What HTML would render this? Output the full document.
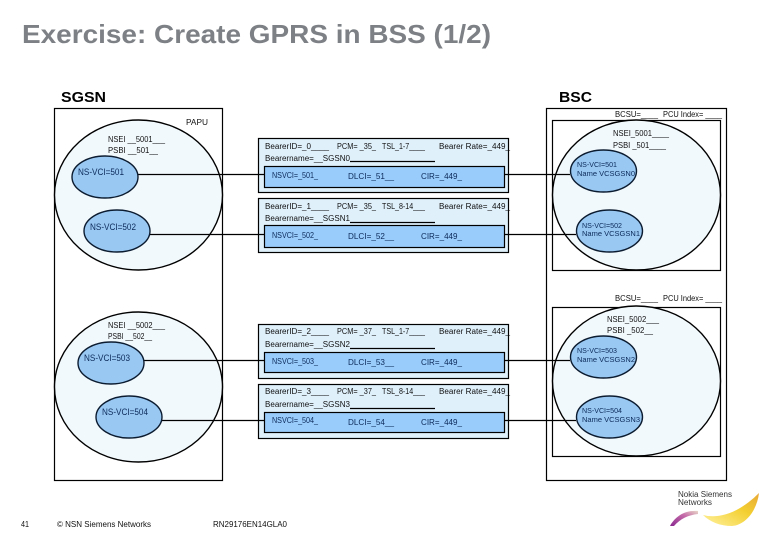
<!DOCTYPE html>
<html><head><meta charset="utf-8"><style>
html,body{margin:0;padding:0;background:#fff;width:780px;height:540px;overflow:hidden}
svg{display:block}
text{font-family:"Liberation Sans",sans-serif;fill:#111;font-size:8px}
.t{fill:#0c2a5a}
.b{fill:none;stroke:#000;stroke-width:1.2}
.c{fill:#f2f9fd;stroke:#000;stroke-width:1.4}
.e{fill:#99c8f3;stroke:#0c1c30;stroke-width:1.4}
.br{fill:#dff0fb;stroke:#000;stroke-width:1.2}
.in{fill:#99ccfb;stroke:#000;stroke-width:1.2}
.l{stroke:#000;stroke-width:1.2;fill:none}
</style></head><body>
<svg width="780" height="540" viewBox="0 0 780 540" xmlns="http://www.w3.org/2000/svg">
<defs>
<linearGradient id="g1" x1="0" y1="1" x2="1" y2="0"><stop offset="0" stop-color="#8a2a90"/><stop offset=".6" stop-color="#c56aa8"/><stop offset="1" stop-color="#e8d8c8"/></linearGradient>
<linearGradient id="g2" x1="0" y1="1" x2="1" y2="0"><stop offset="0" stop-color="#fff2a0"/><stop offset=".6" stop-color="#f3cf30"/><stop offset="1" stop-color="#e8a838"/></linearGradient>
</defs>

<text x="22" y="43" textLength="469" lengthAdjust="spacingAndGlyphs" style="font-size:26px;font-weight:bold;fill:#7d8186">Exercise: Create GPRS in BSS (1/2)</text>
<text x="61" y="102" textLength="45" lengthAdjust="spacingAndGlyphs" style="font-size:14.5px;font-weight:bold;fill:#000">SGSN</text>
<text x="559" y="102" textLength="33" lengthAdjust="spacingAndGlyphs" style="font-size:14.5px;font-weight:bold;fill:#000">BSC</text>

<!-- containers -->
<rect class="b" x="54.5" y="108.5" width="168" height="372"/>
<rect class="b" x="546.5" y="108.5" width="180" height="372"/>
<rect class="b" x="552.5" y="120.5" width="168" height="150"/>
<rect class="b" x="552.5" y="307.5" width="168" height="149"/>

<!-- circles -->
<ellipse class="c" cx="138.5" cy="195" rx="84" ry="75"/>
<ellipse class="c" cx="138.5" cy="387" rx="84" ry="75"/>
<ellipse class="c" cx="636.5" cy="195" rx="84" ry="75"/>
<ellipse class="c" cx="636.5" cy="381" rx="84" ry="75"/>

<!-- connectors -->
<path class="l" d="M138 174.5H264M504 174.5H570"/>
<path class="l" d="M150 234.5H264M504 234.5H576"/>
<path class="l" d="M144 360.5H264M504 360.5H570"/>
<path class="l" d="M162 420.5H264M504 420.5H576"/>

<!-- ellipses -->
<ellipse class="e" cx="105" cy="177" rx="33" ry="21"/>
<ellipse class="e" cx="117" cy="231" rx="33" ry="21"/>
<ellipse class="e" cx="111" cy="363" rx="33" ry="21"/>
<ellipse class="e" cx="129" cy="417" rx="33" ry="21"/>
<ellipse class="e" cx="603.5" cy="171" rx="33" ry="21"/>
<ellipse class="e" cx="609.5" cy="231" rx="33" ry="21"/>
<ellipse class="e" cx="603.5" cy="357" rx="33" ry="21"/>
<ellipse class="e" cx="609.5" cy="417" rx="33" ry="21"/>

<!-- bearer boxes -->
<rect class="br" x="258.5" y="138.5" width="250" height="54"/>
<rect class="in" x="264.5" y="166.5" width="240" height="21"/>
<rect class="br" x="258.5" y="198.5" width="250" height="54"/>
<rect class="in" x="264.5" y="225.5" width="240" height="22"/>
<rect class="br" x="258.5" y="324.5" width="250" height="54"/>
<rect class="in" x="264.5" y="352.5" width="240" height="20"/>
<rect class="br" x="258.5" y="384.5" width="250" height="54"/>
<rect class="in" x="264.5" y="412.5" width="240" height="20"/>
<path class="l" d="M264 174.5H258M504 174.5H509M264 234.5H258M504 234.5H509M264 360.5H258M504 360.5H509M264 420.5H258M504 420.5H509"/>

<!-- SGSN labels -->
<text x="186" y="125" textLength="22" lengthAdjust="spacingAndGlyphs">PAPU</text>
<text x="108" y="142" textLength="57" lengthAdjust="spacingAndGlyphs">NSEI __5001___</text>
<text x="108" y="153" textLength="50" lengthAdjust="spacingAndGlyphs">PSBI __501__</text>
<text class="t" x="78" y="175" textLength="46" lengthAdjust="spacingAndGlyphs" style="font-size:9px">NS-VCI=501</text>
<text class="t" x="90" y="230" textLength="46" lengthAdjust="spacingAndGlyphs" style="font-size:9px">NS-VCI=502</text>
<text x="108" y="328" textLength="57" lengthAdjust="spacingAndGlyphs">NSEI __5002___</text>
<text x="108" y="339" textLength="44" lengthAdjust="spacingAndGlyphs">PSBI __502__</text>
<text class="t" x="84" y="361" textLength="46" lengthAdjust="spacingAndGlyphs" style="font-size:9px">NS-VCI=503</text>
<text class="t" x="102" y="415" textLength="46" lengthAdjust="spacingAndGlyphs" style="font-size:9px">NS-VCI=504</text>

<!-- Bearer 0 -->
<text x="265" y="149" textLength="64" lengthAdjust="spacingAndGlyphs">BearerID=_0____</text>
<text x="337" y="149" textLength="39" lengthAdjust="spacingAndGlyphs">PCM= _35_</text>
<text x="382" y="149" textLength="43" lengthAdjust="spacingAndGlyphs">TSL_1-7____</text>
<text x="439" y="149" textLength="71" lengthAdjust="spacingAndGlyphs">Bearer Rate=_449_</text>
<text x="265" y="161" textLength="85" lengthAdjust="spacingAndGlyphs">Bearername=__SGSN0</text>
<path class="l" d="M350 161.5H435"/>
<text class="t" x="272" y="178" textLength="46" lengthAdjust="spacingAndGlyphs">NSVCI=_501_</text>
<text class="t" x="348" y="179" textLength="46" lengthAdjust="spacingAndGlyphs">DLCI=_51__</text>
<text class="t" x="421" y="179" textLength="41" lengthAdjust="spacingAndGlyphs">CIR=_449_</text>

<!-- Bearer 1 -->
<text x="265" y="209" textLength="64" lengthAdjust="spacingAndGlyphs">BearerID=_1____</text>
<text x="337" y="209" textLength="39" lengthAdjust="spacingAndGlyphs">PCM= _35_</text>
<text x="382" y="209" textLength="43" lengthAdjust="spacingAndGlyphs">TSL_8-14___</text>
<text x="439" y="209" textLength="71" lengthAdjust="spacingAndGlyphs">Bearer Rate=_449_</text>
<text x="265" y="221" textLength="85" lengthAdjust="spacingAndGlyphs">Bearername=__SGSN1</text>
<path class="l" d="M350 222.5H435"/>
<text class="t" x="272" y="238" textLength="46" lengthAdjust="spacingAndGlyphs">NSVCI=_502_</text>
<text class="t" x="348" y="239" textLength="46" lengthAdjust="spacingAndGlyphs">DLCI=_52__</text>
<text class="t" x="421" y="239" textLength="41" lengthAdjust="spacingAndGlyphs">CIR=_449_</text>

<!-- Bearer 2 -->
<text x="265" y="334" textLength="64" lengthAdjust="spacingAndGlyphs">BearerID=_2____</text>
<text x="337" y="334" textLength="39" lengthAdjust="spacingAndGlyphs">PCM= _37_</text>
<text x="382" y="334" textLength="43" lengthAdjust="spacingAndGlyphs">TSL_1-7____</text>
<text x="439" y="334" textLength="71" lengthAdjust="spacingAndGlyphs">Bearer Rate=_449_</text>
<text x="265" y="347" textLength="85" lengthAdjust="spacingAndGlyphs">Bearername=__SGSN2</text>
<path class="l" d="M350 348.5H435"/>
<text class="t" x="272" y="364" textLength="46" lengthAdjust="spacingAndGlyphs">NSVCI=_503_</text>
<text class="t" x="348" y="365" textLength="46" lengthAdjust="spacingAndGlyphs">DLCI=_53__</text>
<text class="t" x="421" y="365" textLength="41" lengthAdjust="spacingAndGlyphs">CIR=_449_</text>

<!-- Bearer 3 -->
<text x="265" y="394" textLength="64" lengthAdjust="spacingAndGlyphs">BearerID=_3____</text>
<text x="337" y="394" textLength="39" lengthAdjust="spacingAndGlyphs">PCM= _37_</text>
<text x="382" y="394" textLength="43" lengthAdjust="spacingAndGlyphs">TSL_8-14___</text>
<text x="439" y="394" textLength="71" lengthAdjust="spacingAndGlyphs">Bearer Rate=_449_</text>
<text x="265" y="407" textLength="85" lengthAdjust="spacingAndGlyphs">Bearername=__SGSN3</text>
<path class="l" d="M350 408.5H435"/>
<text class="t" x="272" y="423" textLength="46" lengthAdjust="spacingAndGlyphs">NSVCI=_504_</text>
<text class="t" x="348" y="425" textLength="46" lengthAdjust="spacingAndGlyphs">DLCI=_54__</text>
<text class="t" x="421" y="425" textLength="41" lengthAdjust="spacingAndGlyphs">CIR=_449_</text>

<!-- BSC labels -->
<text x="615" y="117" textLength="43" lengthAdjust="spacingAndGlyphs">BCSU=____</text>
<text x="663" y="117" textLength="59" lengthAdjust="spacingAndGlyphs">PCU Index= ____</text>
<text x="613" y="136" textLength="56" lengthAdjust="spacingAndGlyphs">NSEI_5001____</text>
<text x="613" y="148" textLength="53" lengthAdjust="spacingAndGlyphs">PSBI _501____</text>
<text class="t" x="577" y="167" textLength="40" lengthAdjust="spacingAndGlyphs" style="font-size:7.5px">NS-VCI=501</text>
<text class="t" x="577" y="176" textLength="58" lengthAdjust="spacingAndGlyphs" style="font-size:7.5px">Name VCSGSN0</text>
<text class="t" x="582" y="228" textLength="40" lengthAdjust="spacingAndGlyphs" style="font-size:7.5px">NS-VCI=502</text>
<text class="t" x="582" y="236" textLength="58" lengthAdjust="spacingAndGlyphs" style="font-size:7.5px">Name VCSGSN1</text>

<text x="615" y="301" textLength="43" lengthAdjust="spacingAndGlyphs">BCSU=____</text>
<text x="663" y="301" textLength="59" lengthAdjust="spacingAndGlyphs">PCU Index= ____</text>
<text x="607" y="322" textLength="52" lengthAdjust="spacingAndGlyphs">NSEI_5002___</text>
<text x="607" y="333" textLength="46" lengthAdjust="spacingAndGlyphs">PSBI _502__</text>
<text class="t" x="577" y="353" textLength="40" lengthAdjust="spacingAndGlyphs" style="font-size:7.5px">NS-VCI=503</text>
<text class="t" x="577" y="362" textLength="58" lengthAdjust="spacingAndGlyphs" style="font-size:7.5px">Name VCSGSN2</text>
<text class="t" x="582" y="413" textLength="40" lengthAdjust="spacingAndGlyphs" style="font-size:7.5px">NS-VCI=504</text>
<text class="t" x="582" y="422" textLength="58" lengthAdjust="spacingAndGlyphs" style="font-size:7.5px">Name VCSGSN3</text>

<!-- footer -->
<text x="21" y="527" textLength="8" lengthAdjust="spacingAndGlyphs">41</text>
<text x="57" y="527" textLength="94" lengthAdjust="spacingAndGlyphs">© NSN Siemens Networks</text>
<text x="213" y="527" textLength="74" lengthAdjust="spacingAndGlyphs">RN29176EN14GLA0</text>

<!-- logo -->
<text x="678" y="497" textLength="54" lengthAdjust="spacingAndGlyphs" style="font-size:8px;fill:#333">Nokia Siemens</text>
<text x="678" y="505" textLength="34" lengthAdjust="spacingAndGlyphs" style="font-size:8px;fill:#333">Networks</text>
<path d="M670 526C675 517 684 510 698 511L698 514C688 515 680 519 674 526Z" fill="url(#g1)"/>
<path d="M703 515C718 519 738 514 759 493C757 510 746 525 732 526C720 526 710 522 703 515Z" fill="url(#g2)"/>
</svg>
</body></html>
